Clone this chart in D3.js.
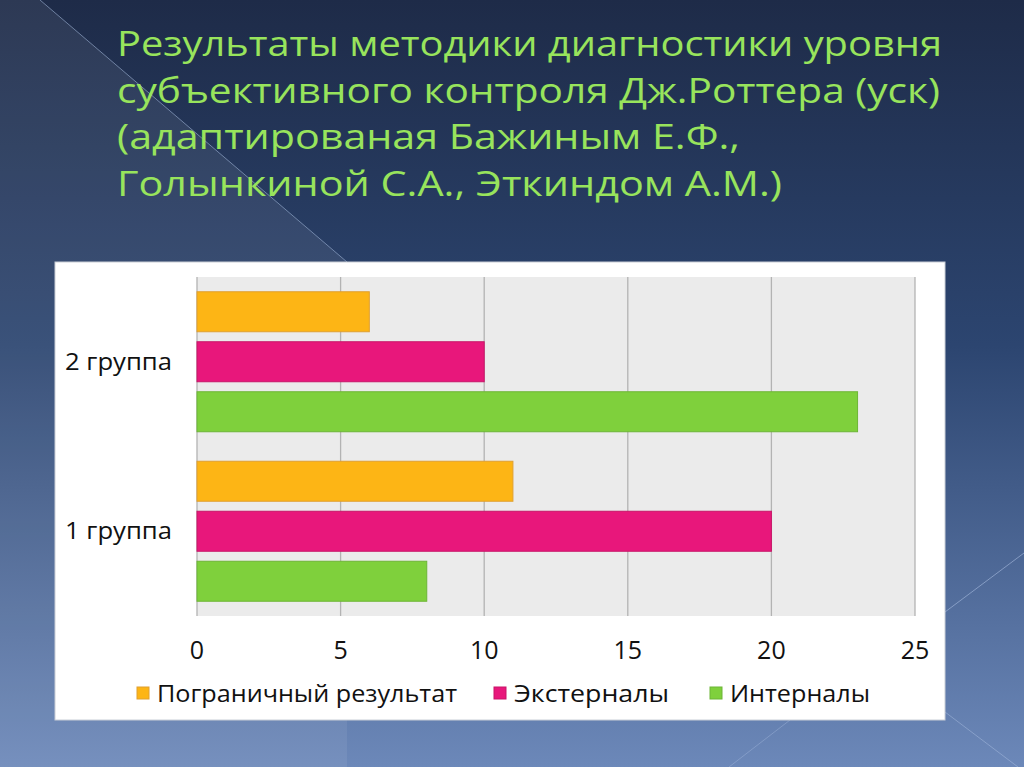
<!DOCTYPE html>
<html><head><meta charset="utf-8">
<script src="https://cdn.jsdelivr.net/npm/d3@7"></script>
<style>html,body{margin:0;padding:0;overflow:hidden;background:#2a4068}</style>
</head><body>
<svg id="c" width="1024" height="767"></svg>
<script>
const titleLines = ["Результаты методики диагностики уровня","субъективного контроля Дж.Роттера (уск)","(адаптированая Бажиным Е.Ф.,","Голынкиной С.А., Эткиндом А.М.)"];
const titleWidths = [825, 823, 623, 665];
const categories = ["2 группа","1 группа"];
const seriesNames = ["Пограничный результат","Экстерналы","Интерналы"];
const seriesColors = ["#fdb515","#e8177b","#7fd03c"];
const seriesStroke = ["#e0a030","#c81468","#6db536"];
const values = {
  "2 группа": [6, 10, 23],
  "1 группа": [11, 20, 8]
};
const xTicks = [0,5,10,15,20,25];
const legendWidths = [300, 155, 140];

const svg = d3.select("#c");
const defs = svg.append("defs");
const g1 = defs.append("linearGradient").attr("id","bg").attr("x1",0).attr("y1",0).attr("x2",0).attr("y2",1);
g1.append("stop").attr("offset","0").attr("stop-color","#1e2b48");
g1.append("stop").attr("offset","0.45").attr("stop-color","#2c4570");
g1.append("stop").attr("offset","1").attr("stop-color","#6c88b9");
svg.append("rect").attr("width",1024).attr("height",767).attr("fill","url(#bg)");
svg.append("path").attr("d","M0,0 L40,0 L347,262 L347,767 L0,767 Z").attr("fill","#ffffff").attr("opacity",0.07);
svg.append("line").attr("x1",40).attr("y1",0).attr("x2",347).attr("y2",262).attr("stroke","#9fb4d6").attr("stroke-width",1).attr("opacity",0.6);
svg.append("line").attr("x1",945).attr("y1",612).attr("x2",1024).attr("y2",553).attr("stroke","#a9bde0").attr("opacity",0.6);
svg.append("line").attr("x1",945).attr("y1",712).attr("x2",1018).attr("y2",767).attr("stroke","#a9bde0").attr("opacity",0.5);
svg.append("line").attr("x1",790).attr("y1",720).attr("x2",729).attr("y2",767).attr("stroke","#a9bde0").attr("opacity",0.4);

const tg = svg.append("g");
titleLines.forEach((t,i)=>{
  tg.append("text").attr("x",117).attr("y",56+i*46.5)
    .attr("font-family","'Open Sans', 'Noto Sans', sans-serif").attr("font-weight",400).attr("font-size",34)
    .attr("fill","#98e45c").attr("textLength",titleWidths[i]).attr("lengthAdjust","spacingAndGlyphs")
    .text(t);
});

svg.append("rect").attr("x",55).attr("y",262).attr("width",890).attr("height",458)
  .attr("fill","#ffffff").attr("stroke","#c9ced6").attr("stroke-width",1);

const x = d3.scaleLinear().domain([0,25]).range([197,915]);
const y0 = d3.scaleBand().domain(categories).range([277,616]).padding(0);
const innerH = 140;
const y1 = d3.scaleBand().domain(seriesNames).range([0,innerH]).paddingInner(0.2).paddingOuter(0);
const off = (y0.bandwidth()-innerH)/2;

svg.append("rect").attr("x",x(0)).attr("y",277).attr("width",x(25)-x(0)).attr("height",616-277).attr("fill","#ebebeb");
svg.append("g").selectAll("line").data(xTicks).join("line")
  .attr("x1",d=>x(d)).attr("x2",d=>x(d)).attr("y1",277).attr("y2",616)
  .attr("stroke","#b3b3b3").attr("stroke-width",1.3);

const font = "'Open Sans', 'Noto Sans', sans-serif";
categories.forEach(c=>{
  const gg = svg.append("g").attr("transform",`translate(0,${y0(c)+off})`);
  gg.selectAll("rect").data(values[c].map((v,i)=>({v,i}))).join("rect")
    .attr("x",x(0)).attr("y",d=>y1(seriesNames[d.i])).attr("height",y1.bandwidth())
    .attr("width",d=>x(d.v)-x(0)).attr("fill",d=>seriesColors[d.i])
    .attr("stroke",d=>seriesStroke[d.i]).attr("stroke-width",1);
  svg.append("text").attr("x",65).attr("y",y0(c)+y0.bandwidth()/2+8)
    .attr("font-family",font).attr("font-size",24).attr("fill","#111")
    .attr("textLength",107).attr("lengthAdjust","spacingAndGlyphs").text(c);
});

svg.append("g").selectAll("text").data(xTicks).join("text")
  .attr("x",d=>x(d)).attr("y",659).attr("text-anchor","middle")
  .attr("font-family",font).attr("font-size",25).attr("fill","#111").text(d=>d);

const legX = [137, 494, 710];
seriesNames.forEach((s,i)=>{
  svg.append("rect").attr("x",legX[i]).attr("y",687).attr("width",12).attr("height",12)
    .attr("fill",seriesColors[i]).attr("stroke",seriesStroke[i]);
  svg.append("text").attr("x",legX[i]+20).attr("y",702).attr("font-family",font).attr("font-size",24)
    .attr("fill","#111").attr("textLength",legendWidths[i]).attr("lengthAdjust","spacingAndGlyphs").text(s);
});
</script>
</body></html>
